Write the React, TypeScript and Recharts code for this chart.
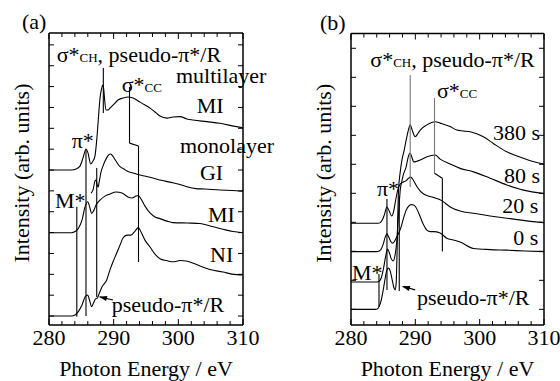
import React from 'react';
import { LineChart, Line, XAxis, YAxis, ReferenceLine, ReferenceDot } from 'recharts';

const FONT = "'Liberation Serif', 'Times New Roman', serif";
const W = 560;
const H = 381;
const AX = 30; // axis band size (compensated in margins)

// ---------- axes ----------
const xTicks = [280, 282, 284, 286, 288, 290, 292, 294, 296, 298, 300, 302, 304, 306, 308, 310];
const xTickLabels = [280, 290, 300, 310];
const yTicksA = [0, 1, 2, 3, 4, 5, 6, 7, 8, 9, 10, 11, 12, 13];
const yTicksB = [0, 1, 2, 3, 4, 5, 6, 7, 8, 9];

// ---------- panel (a) ----------
const aMultiMI_E = [280, 283.56, 284.17, 284.79, 285.26, 285.72, 286.03, 286.45, 286.8, 287.11, 287.31, 287.47, 287.62, 287.89, 288.12, 288.3, 288.46, 288.58, 288.81, 289.12, 289.43, 290.05, 290.67, 291.44, 292.26, 292.99, 294.07, 294.84, 295.62, 296.39, 297.16, 298.25, 299.17, 300.26, 301.34, 302.27, 304.39, 306.44, 309.02, 310];
const aMultiMI_I = [7.0, 7.0, 7.05, 7.19, 7.58, 8.01, 7.82, 7.29, 7.43, 7.67, 8.2, 8.78, 9.4, 10.45, 10.88, 11.08, 10.88, 10.45, 9.88, 9.88, 9.97, 10.16, 10.36, 10.45, 10.5, 10.45, 10.26, 10.12, 9.97, 9.78, 9.59, 9.49, 9.54, 9.56, 9.45, 9.4, 9.32, 9.24, 9.08, 9.03];

const aGI_E = [286.49, 286.8, 287.11, 287.27, 287.42, 287.58, 287.81, 288.04, 288.35, 288.66, 288.97, 289.28, 289.51, 289.74, 290.05, 290.36, 290.98, 291.6, 292.06, 292.99, 294.07, 294.84, 296.08, 297.16, 298.71, 300.26, 301.34, 302.73, 304.12, 306.44, 308.3, 310];
const aGI_I = [5.9, 6.04, 6.47, 6.52, 6.33, 6.18, 6.52, 6.9, 7.19, 7.43, 7.62, 7.74, 7.77, 7.72, 7.58, 7.43, 7.16, 7.05, 6.95, 6.86, 6.76, 6.71, 6.62, 6.52, 6.42, 6.31, 6.2, 6.11, 6.09, 6.04, 6.02, 5.99];

const aMonoMI_E = [280, 283.51, 284.02, 284.53, 285.1, 285.57, 285.98, 286.26, 286.6, 286.88, 287.27, 287.89, 288.66, 289.43, 290.36, 291.29, 292.21, 292.83, 293.45, 293.81, 294.23, 294.84, 295.62, 296.39, 297.16, 298.25, 299.17, 301.34, 303.35, 304.9, 306.91, 308.45, 310];
const aMonoMI_I = [3.99, 3.99, 4.05, 4.2, 4.6, 5.23, 5.48, 5.27, 4.92, 5.03, 5.32, 5.56, 5.75, 5.85, 5.95, 5.9, 5.71, 5.66, 5.75, 5.78, 5.61, 5.27, 4.94, 4.75, 4.67, 4.55, 4.48, 4.46, 4.44, 4.32, 4.16, 4.05, 3.99];

const aNI_E = [280, 283.51, 284.02, 284.53, 285.1, 285.57, 285.98, 286.26, 286.6, 286.88, 287.19, 287.47, 287.73, 288.19, 288.92, 289.43, 289.89, 290.47, 290.98, 291.44, 292.06, 292.68, 293.3, 293.81, 294.23, 294.84, 295.62, 296.39, 297.16, 298.19, 299.22, 300.26, 301.19, 301.8, 303.35, 304.9, 306.91, 308.3, 310];
const aNI_I = [0, 0, 0.05, 0.21, 0.53, 0.91, 1.01, 0.77, 0.45, 0.62, 0.82, 0.86, 1.05, 1.39, 1.73, 2.21, 2.59, 3.02, 3.4, 3.74, 3.88, 3.88, 4.07, 4.24, 4.03, 3.64, 3.31, 2.97, 2.75, 2.66, 2.6, 2.66, 2.64, 2.59, 2.4, 2.23, 2.11, 2.01, 1.97];

// ---------- panel (b) ----------
const b380_E = [280, 283.77, 284.08, 284.39, 284.7, 285.01, 285.32, 285.59, 285.84, 286.1, 286.41, 286.64, 286.88, 287.03, 287.15, 287.26, 287.39, 287.65, 287.92, 288.27, 288.58, 288.89, 289.2, 289.51, 289.98, 290.45, 290.76, 291.8, 293.08, 293.86, 295.41, 296.45, 297.43, 298.52, 300.58, 302.13, 304.21, 306.79, 308.6, 310];
const b380_I = [0, 0, 0.01, 0.11, 0.32, 0.67, 1.08, 1.36, 1.42, 1.32, 1.01, 0.77, 0.67, 0.94, 1.87, 3.08, 4.11, 4.73, 5.15, 5.49, 5.84, 6.15, 6.36, 6.18, 5.95, 6.08, 6.18, 6.36, 6.47, 6.42, 6.3, 6.18, 6.15, 6.12, 5.95, 5.72, 5.43, 5.21, 5.08, 5.01];

const b80_E = [280, 284.08, 284.39, 284.7, 285.01, 285.4, 285.68, 286.02, 286.26, 286.57, 286.88, 287.11, 287.31, 287.5, 287.65, 287.88, 288.12, 288.58, 288.89, 289.2, 289.51, 289.75, 290.13, 290.76, 291.8, 293.08, 293.86, 295.41, 296.96, 299.03, 301.62, 304.21, 306.79, 310];
const b80_I = [0.94, 0.94, 0.97, 1.08, 1.36, 1.84, 2.08, 1.91, 1.74, 1.67, 1.91, 2.32, 3.01, 3.65, 4.11, 4.39, 4.63, 4.92, 5.25, 5.38, 5.21, 5.08, 5.1, 5.15, 5.26, 5.32, 5.18, 5.01, 4.86, 4.74, 4.52, 4.29, 4.11, 3.99];

const b20_E = [280, 284.24, 284.55, 284.86, 285.17, 285.59, 285.94, 286.33, 286.64, 286.95, 287.26, 287.65, 288.12, 288.58, 288.89, 289.28, 289.67, 290.29, 291.07, 292.0, 293.08, 294.17, 295.41, 296.96, 299.03, 301.62, 304.21, 307.05, 310];
const b20_I = [2.97, 2.97, 2.99, 3.08, 3.25, 3.53, 3.39, 3.22, 3.39, 3.77, 4.11, 4.32, 4.39, 4.44, 4.51, 4.56, 4.46, 4.22, 4.01, 3.91, 3.84, 3.74, 3.53, 3.39, 3.31, 3.22, 3.14, 3.06, 2.99];

const b0_E = [280, 284.04, 284.39, 284.7, 285.01, 285.32, 285.59, 285.87, 286.18, 286.49, 286.8, 287.11, 287.42, 287.73, 288.12, 288.58, 288.97, 289.36, 289.72, 290.06, 290.45, 290.76, 291.22, 291.8, 292.31, 292.82, 293.86, 294.9, 295.92, 296.96, 299.03, 301.62, 304.21, 307.05, 310];
const b0_I = [1.99, 1.99, 2.01, 2.08, 2.25, 2.49, 2.6, 2.49, 2.34, 2.28, 2.36, 2.49, 2.63, 2.8, 3.11, 3.42, 3.56, 3.61, 3.6, 3.53, 3.36, 3.19, 2.94, 2.73, 2.68, 2.68, 2.63, 2.45, 2.39, 2.32, 2.1, 2.06, 2.04, 2.01, 1.99];

// ---------- annotations (data coordinates) ----------
type Note = { e: number; v: number; t: string; sub?: string; rest?: string; anchor?: 'start' | 'end' | 'middle' };
const notesA: Note[] = [
  { e: 281.19, v: 12.18, t: 'σ*', sub: 'CH', rest: ', pseudo-π*/R' },
  { e: 291.24, v: 10.74, t: 'σ*', sub: 'CC' },
  { e: 299.64, v: 11.17, t: 'multilayer' },
  { e: 302.84, v: 9.73, t: 'MI' },
  { e: 300.26, v: 7.82, t: 'monolayer' },
  { e: 303.35, v: 6.52, t: 'GI' },
  { e: 304.59, v: 4.51, t: 'MI' },
  { e: 304.9, v: 2.59, t: 'NI' },
  { e: 283.51, v: 8.05, t: 'π*' },
  { e: 280.93, v: 5.18, t: 'M*' },
  { e: 289.7, v: 0.19, t: 'pseudo-π*/R' },
];
const notesB: Note[] = [
  { e: 283.0, v: 8.36, t: 'σ*', sub: 'CH', rest: ', pseudo-π*/R' },
  { e: 293.35, v: 7.29, t: 'σ*', sub: 'CC' },
  { e: 309.38, v: 5.84, t: '380 s', anchor: 'end' },
  { e: 309.38, v: 4.36, t: '80 s', anchor: 'end' },
  { e: 309.1, v: 3.32, t: '20 s', anchor: 'end' },
  { e: 309.1, v: 2.22, t: '0 s', anchor: 'end' },
  { e: 284.04, v: 3.91, t: 'π*' },
  { e: 280.16, v: 1.01, t: 'M*' },
  { e: 290.24, v: 0.15, t: 'pseudo-π*/R' },
];

// marker segments: [e1, v1, e2, v2, colour]
type Seg = [number, number, number, number, string];
const segsA: Seg[] = [
  [284.3, 5.24, 284.3, -0.03, '#000'],
  [285.72, 7.97, 285.72, 0, '#000'],
  [287.38, 7.1, 287.38, 0.91, '#000'],
  [288.4, 11.89, 288.4, 9.73, '#000'],
  [292.45, 10.98, 292.45, 8.29, '#000'],
  [292.45, 8.29, 293.84, 8.15, '#000'],
  [293.84, 8.15, 293.84, 2.59, '#000'],
  [289.9, 0.77, 287.85, 0.92, '#000'],
];
const segsB: Seg[] = [
  [285.59, 3.8, 285.59, 0.67, '#000'],
  [284.35, 1.22, 284.35, 0.08, '#000'],
  [287.5, 3.9, 287.5, 0.63, '#000'],
  [289.2, 8.08, 289.2, 4.22, '#777'],
  [292.98, 7.28, 292.98, 4.69, '#777'],
  [292.98, 4.69, 294.2, 4.52, '#000'],
  [294.2, 4.52, 294.2, 1.99, '#000'],
  [289.98, 0.67, 288.05, 0.79, '#000'],
];

const zip = (e: number[], i: number[]) => e.map((x, k) => ({ x, y: i[k] }));

const textStyle = { fontFamily: FONT, fontSize: 22 };

// ---------- ticks ----------
const BottomTick = (p: any) => {
  const { x, y, payload } = p;
  const major = xTickLabels.includes(payload.value);
  return (
    <g>
      <line x1={x} x2={x} y1={y} y2={y - (major ? 6 : 4)} stroke="#000" strokeWidth={1} />
      {major && (
        <text x={x} y={y + 20} textAnchor="middle" fontFamily={FONT} fontSize={22} style={textStyle} fill="#000">
          {payload.value}
        </text>
      )}
    </g>
  );
};
const TopTick = (p: any) => {
  const { x, y, payload } = p;
  const major = xTickLabels.includes(payload.value);
  return <line x1={x} x2={x} y1={y} y2={y + (major ? 6 : 4)} stroke="#000" strokeWidth={1} />;
};
const LeftTick = (p: any) => <line x1={p.x} x2={p.x + 5} y1={p.y} y2={p.y} stroke="#000" strokeWidth={1} />;
const RightTick = (p: any) => <line x1={p.x} x2={p.x - 5} y1={p.y} y2={p.y} stroke="#000" strokeWidth={1} />;

const axisStyle = { stroke: '#000', strokeWidth: 1.5 };

type PanelCfg = {
  plot: { left: number; right: number; top: number; bottom: number };
  yDomain: [number, number];
  yTicks: number[];
  series: { name: string; data: { x: number; y: number }[] }[];
  segs: Seg[];
  notes: Note[];
  arrowHead: { e: number; v: number; dx: number; dy: number };
  caption: string;
  captionDx: number;
};

const renderNote = (n: Note) => (p: any) => {
  const vb = p.viewBox || { x: 0, y: 0 };
  return (
    <text x={vb.x} y={vb.y} textAnchor={n.anchor || 'start'} fontFamily={FONT} fontSize={22} style={textStyle} fill="#000">
      <tspan>{n.t}</tspan>
      {n.sub && <tspan style={{ fontSize: 13 }} fontSize={13}>{n.sub}</tspan>}
      {n.rest && <tspan>{n.rest}</tspan>}
    </text>
  );
};

function Panel({ cfg }: { cfg: PanelCfg }) {
  const ah = cfg.arrowHead;
  const len = Math.hypot(ah.dx, ah.dy);
  const ux = ah.dx / len;
  const uy = ah.dy / len;
  const margin = {
    top: cfg.plot.top - AX,
    left: cfg.plot.left - AX,
    right: W - cfg.plot.right - AX,
    bottom: H - cfg.plot.bottom - AX,
  };
  return (
    <div style={{ position: 'absolute', left: 0, top: 0 }}>
      <LineChart width={W} height={H} margin={margin}>
        <XAxis
          xAxisId="b"
          type="number"
          dataKey="x"
          domain={[280, 310]}
          ticks={xTicks}
          interval={0}
          tickSize={0}
          tickMargin={0}
          height={AX}
          tick={BottomTick}
          tickLine={false}
          axisLine={axisStyle}
          allowDataOverflow
          label={(p: any) => {
            const vb = p.viewBox;
            return (
              <text x={vb.x + vb.width / 2} y={vb.y + 51} textAnchor="middle" fontFamily={FONT} fontSize={22} style={textStyle} fill="#000">
                Photon Energy / eV
              </text>
            );
          }}
        />
        <XAxis
          xAxisId="t"
          orientation="top"
          type="number"
          dataKey="x"
          domain={[280, 310]}
          ticks={xTicks}
          interval={0}
          tickSize={0}
          tickMargin={0}
          height={AX}
          tick={TopTick}
          tickLine={false}
          axisLine={axisStyle}
          allowDataOverflow
          label={(p: any) => {
            const vb = p.viewBox;
            return (
              <text x={vb.x + cfg.captionDx} y={vb.y + vb.height - 4} fontFamily={FONT} fontSize={22} style={textStyle} fill="#000">
                {cfg.caption}
              </text>
            );
          }}
        />
        <YAxis
          yAxisId="l"
          type="number"
          domain={cfg.yDomain}
          ticks={cfg.yTicks}
          interval={0}
          tickSize={0}
          tickMargin={0}
          width={AX}
          tick={LeftTick}
          tickLine={false}
          axisLine={axisStyle}
          allowDataOverflow
          label={(p: any) => {
            const vb = p.viewBox;
            const bx = vb.x + vb.width - 20;
            const cy = vb.y + vb.height / 2 - 6;
            return (
              <text x={0} y={0} transform={`translate(${bx},${cy}) rotate(-90)`} textAnchor="middle" fontFamily={FONT} fontSize={22} style={textStyle} fill="#000">
                Intensity (arb. units)
              </text>
            );
          }}
        />
        <YAxis
          yAxisId="r"
          orientation="right"
          type="number"
          domain={cfg.yDomain}
          ticks={cfg.yTicks}
          interval={0}
          tickSize={0}
          tickMargin={0}
          width={AX}
          tick={RightTick}
          tickLine={false}
          axisLine={axisStyle}
          allowDataOverflow
        />
        {cfg.series.map((s) => (
          <Line
            key={s.name}
            name={s.name}
            xAxisId="b"
            yAxisId="l"
            data={s.data}
            dataKey="y"
            type="monotone"
            stroke="#000"
            strokeWidth={1.1}
            dot={false}
            activeDot={false}
            isAnimationActive={false}
          />
        ))}
        {cfg.segs.map((s, k) => (
          <ReferenceLine
            key={'seg' + k}
            xAxisId="b"
            yAxisId="l"
            segment={[
              { x: s[0], y: s[1] },
              { x: s[2], y: s[3] },
            ]}
            stroke={s[4]}
            strokeWidth={1.1}
            ifOverflow="visible"
          />
        ))}
        <ReferenceDot
          xAxisId="b"
          yAxisId="l"
          x={ah.e}
          y={ah.v}
          r={1}
          ifOverflow="visible"
          shape={(p: any) => {
            const { cx, cy } = p;
            const bx = cx - ux * 8;
            const by = cy - uy * 8;
            const px = -uy * 2.6;
            const py = ux * 2.6;
            return <polygon points={`${cx},${cy} ${bx + px},${by + py} ${bx - px},${by - py}`} fill="#000" />;
          }}
        />
        {cfg.notes.map((n, k) => (
          <ReferenceDot
            key={'note' + k}
            xAxisId="b"
            yAxisId="l"
            x={n.e}
            y={n.v}
            r={0}
            fill="none"
            stroke="none"
            ifOverflow="visible"
            label={renderNote(n)}
          />
        ))}
      </LineChart>
    </div>
  );
}

const panelA: PanelCfg = {
  plot: { left: 49, right: 243, top: 33, bottom: 325 },
  yDomain: [-0.43, 13.57],
  yTicks: yTicksA,
  series: [
    { name: 'multilayer MI', data: zip(aMultiMI_E, aMultiMI_I) },
    { name: 'monolayer GI', data: zip(aGI_E, aGI_I) },
    { name: 'monolayer MI', data: zip(aMonoMI_E, aMonoMI_I) },
    { name: 'monolayer NI', data: zip(aNI_E, aNI_I) },
  ],
  segs: segsA,
  notes: notesA,
  arrowHead: { e: 287.73, v: 0.93, dx: -14, dy: -3.5 },
  caption: '(a)',
  captionDx: -27,
};

const panelB: PanelCfg = {
  plot: { left: 351, right: 544, top: 33.5, bottom: 325 },
  yDomain: [-0.54, 9.51],
  yTicks: yTicksB,
  series: [
    { name: '380 s', data: zip(b380_E, b380_I) },
    { name: '80 s', data: zip(b80_E, b80_I) },
    { name: '20 s', data: zip(b20_E, b20_I) },
    { name: '0 s', data: zip(b0_E, b0_I) },
  ],
  segs: segsB,
  notes: notesB,
  arrowHead: { e: 287.92, v: 0.8, dx: -13.3, dy: -4 },
  caption: '(b)',
  captionDx: -31,
};

export default function App() {
  return (
    <div style={{ position: 'absolute', left: 0, top: 0, width: W, height: H, background: '#fff', overflow: 'hidden', fontFamily: FONT }}>
      <Panel cfg={panelA} />
      <Panel cfg={panelB} />
    </div>
  );
}
